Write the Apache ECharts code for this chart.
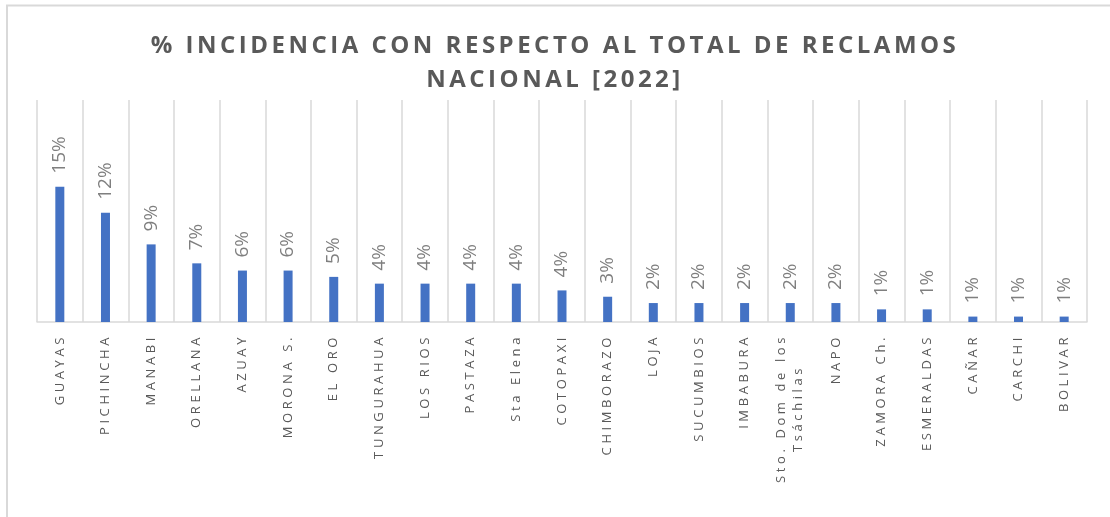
<!DOCTYPE html>
<html>
<head>
<meta charset="utf-8">
<script src="https://cdn.jsdelivr.net/npm/echarts@6/dist/echarts.min.js"></script>
<style>
  html, body { margin: 0; padding: 0; background: #fff; }
  #main { width: 1110px; height: 517px; }
</style>
</head>
<body>
<div id="main"></div>
<script>
// provinces and their share of all national complaints (%)
const provincias = ['GUAYAS', 'PICHINCHA', 'MANABI', 'ORELLANA', 'AZUAY', 'MORONA S.', 'EL ORO',
  'TUNGURAHUA', 'LOS RIOS', 'PASTAZA', 'Sta Elena', 'COTOPAXI', 'CHIMBORAZO', 'LOJA',
  'SUCUMBIOS', 'IMBABURA', 'Sto. Dom de los\nTsáchilas', 'NAPO', 'ZAMORA Ch.', 'ESMERALDAS',
  'CAÑAR', 'CARCHI', 'BOLIVAR'];
const incidencia = [15.0, 12.1, 8.6, 6.5, 5.7, 5.7, 5.0,
  4.25, 4.25, 4.25, 4.25, 3.5, 2.8, 2.1,
  2.1, 2.1, 2.1, 2.1, 1.4, 1.4,
  0.6, 0.6, 0.6];
const titulo = '% INCIDENCIA CON RESPECTO AL TOTAL DE RECLAMOS\nNACIONAL [2022]';

// Excel-style letter spacing: picked by font size, applied when text is measured and drawn
const spacing = { '24px': '3.5px', '13px': '3.6px' };
function spacingFor(font) {
  const m = /(\d+)px/.exec(font || '');
  return (m && spacing[m[0]]) || '0px';
}
const proto = CanvasRenderingContext2D.prototype;
const origFill = proto.fillText;
const origMeasure = proto.measureText;
proto.fillText = function () {
  this.letterSpacing = spacingFor(this.font);
  return origFill.apply(this, arguments);
};
proto.measureText = function () {
  this.letterSpacing = spacingFor(this.font);
  return origMeasure.apply(this, arguments);
};

const myChart = echarts.init(document.getElementById('main'));
const font = '"Open Sans", sans-serif';

const option = {
  animation: false,
  title: {
    text: titulo,
    left: 'center',
    top: 24,
    textStyle: {
      fontFamily: font,
      fontSize: 24,
      fontWeight: 'bold',
      color: '#595959',
      lineHeight: 34
    }
  },
  graphic: [{
    type: 'polyline',
    shape: { points: [[7, 520], [7, 5.5], [1115, 5.5]] },
    style: { stroke: '#d9d9d9', lineWidth: 2, fill: null },
    silent: true
  }],
  grid: {
    left: 37,
    right: 23,
    top: 100,
    bottom: 195
  },
  xAxis: {
    type: 'category',
    data: provincias,
    axisTick: { show: false },
    axisLine: { lineStyle: { color: '#d9d9d9', width: 1.5 } },
    splitLine: { show: true, lineStyle: { color: '#d9d9d9', width: 1.5 } },
    axisLabel: {
      interval: 0,
      rotate: 90,
      margin: 12,
      fontFamily: font,
      fontSize: 13,
      color: '#595959',
      formatter: v => v.split('\n').map(s => '{c|' + s + '}').join('\n'),
      rich: {
        c: { align: 'center', fontFamily: font, fontSize: 13, color: '#595959', lineHeight: 17 }
      }
    }
  },
  yAxis: {
    type: 'value',
    min: 0,
    max: 24.6,
    show: false,
    splitLine: { show: false }
  },
  series: [{
    name: 'Incidencia',
    type: 'bar',
    data: incidencia,
    barWidth: 9,
    itemStyle: { color: '#4472C4' },
    label: {
      show: true,
      position: 'top',
      rotate: 90,
      align: 'left',
      verticalAlign: 'middle',
      distance: 13,
      fontFamily: font,
      fontSize: 19,
      color: '#7f7f7f',
      formatter: p => Math.round(p.value) + '%'
    }
  }]
};

myChart.setOption(option);
</script>
</body>
</html>
